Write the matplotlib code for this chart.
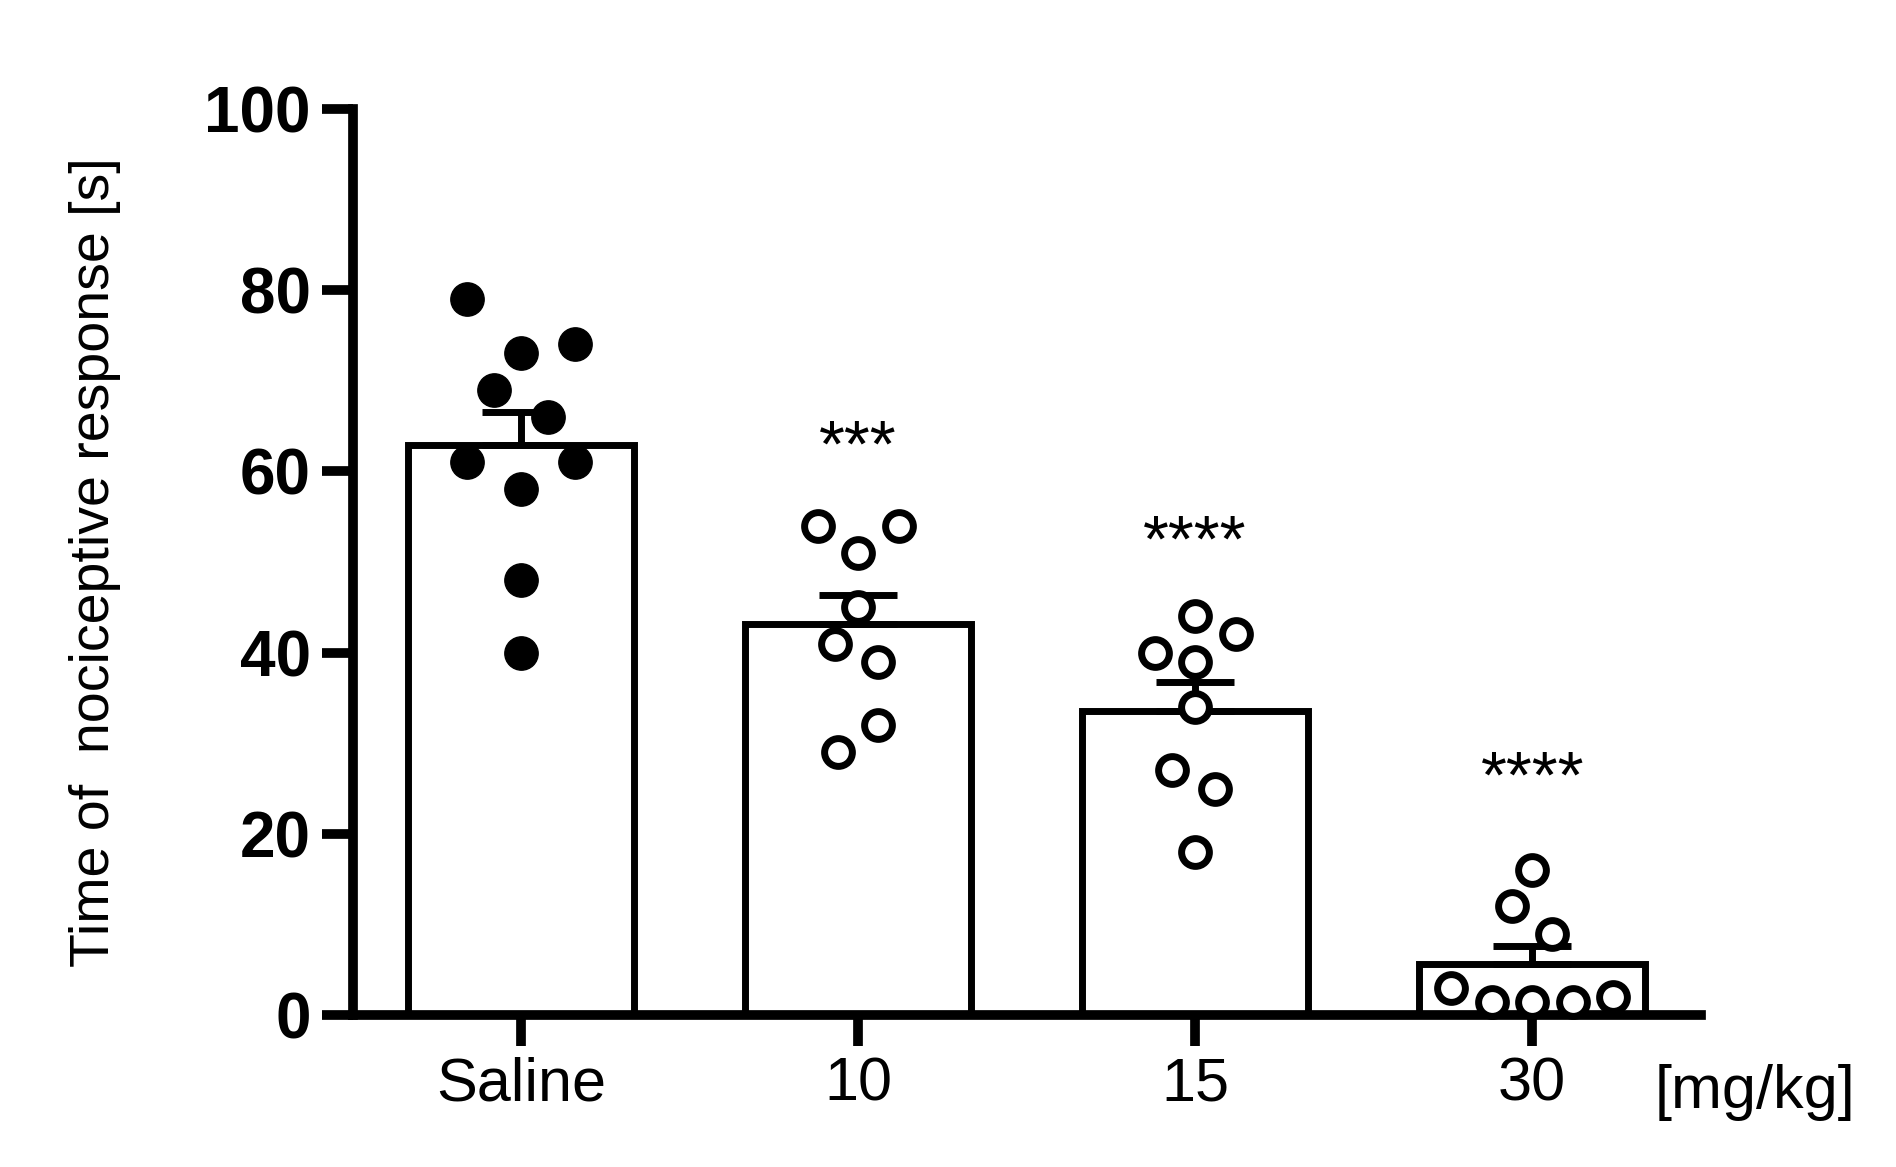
import matplotlib
matplotlib.use("Agg")
import matplotlib.pyplot as plt
import numpy as np

plt.rcParams['font.family'] = ['Liberation Sans', 'DejaVu Sans']

categories = ["Saline", "10", "15", "30"]
means = [62.9, 43.1, 33.6, 5.7]
sems = [3.6, 3.3, 3.2, 1.9]
points = [
    [79, 73, 74, 69, 66, 61, 61, 58, 48, 40],
    [54, 54, 51, 45, 41, 39, 32, 29],
    [44, 42, 40, 39, 34, 27, 25, 18],
    [16, 12, 9, 3, 1.5, 1.5, 1.5, 2],
]
offsets = [
    [-0.16, 0, 0.16, -0.08, 0.08, -0.16, 0.16, 0, 0, 0],
    [-0.12, 0.12, 0, 0, -0.07, 0.06, 0.06, -0.06],
    [0, 0.12, -0.12, 0, 0, -0.07, 0.06, 0],
    [0, -0.06, 0.06, -0.24, -0.12, 0, 0.12, 0.24],
]
stars = ["", "***", "****", "****"]
star_y = [None, 59, 48.5, 22.5]

fig = plt.figure(figsize=(18.96, 11.67), dpi=100)
ax = fig.add_axes([0.186, 0.130, 0.711, 0.777])
x = np.arange(len(categories))
ax.bar(x, means, width=0.67, color='white', edgecolor='black', linewidth=5, zorder=1)
for i in range(len(categories)):
    ax.errorbar(x[i], means[i], yerr=[[0], [sems[i]]], color='black', capsize=28,
                capthick=5, elinewidth=5, zorder=2)
    px = x[i] + np.array(offsets[i])
    if i == 0:
        ax.plot(px, points[i], 'o', ms=24, color='black', zorder=3, clip_on=False)
    else:
        ax.plot(px, points[i], 'o', ms=20, mfc='white', mec='black', mew=5, zorder=3, clip_on=False)
    if stars[i]:
        ax.text(x[i], star_y[i], stars[i], ha='center', va='bottom', fontsize=48)

ax.set_xlim(-0.5, 3.5)
ax.set_ylim(0, 100)
ax.set_yticks([0, 20, 40, 60, 80, 100])
ax.set_xticks(x)
ax.set_xticklabels(categories, fontsize=44)
for t in ax.get_yticklabels():
    t.set_fontsize(46); t.set_fontweight('bold')
ax.spines['top'].set_visible(False)
ax.spines['right'].set_visible(False)
for s in ['left', 'bottom']:
    ax.spines[s].set_linewidth(7)
ax.tick_params(axis='both', width=7, length=22, pad=8)
ax.set_ylabel("Time of  nociceptive response [s]", fontsize=40, labelpad=60)
ax.text(3.66, -0.085, "[mg/kg]", transform=ax.get_xaxis_transform(), ha='center', va='center', fontsize=44)
fig.savefig("out.png", dpi=100)
